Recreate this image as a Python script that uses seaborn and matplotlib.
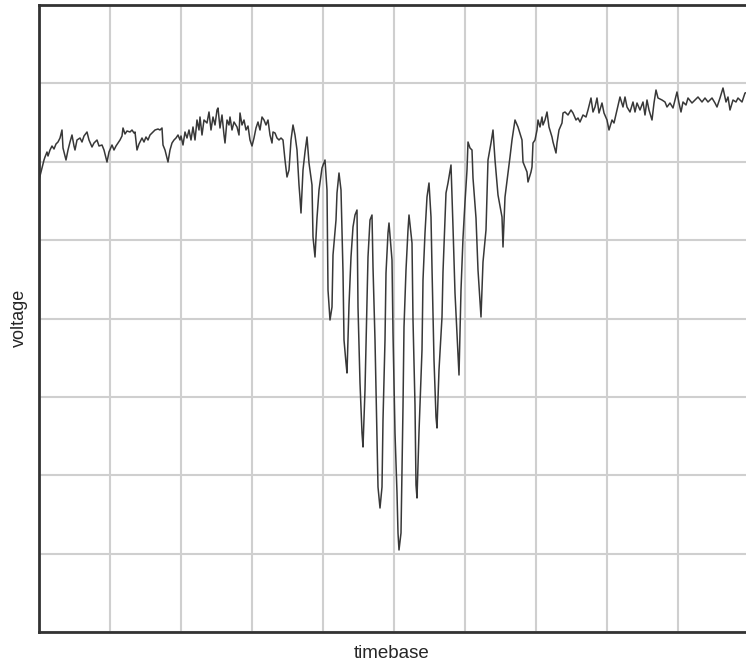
import numpy as np
import pandas as pd
import matplotlib
matplotlib.use("Agg")
import matplotlib.pyplot as plt
import seaborn as sns

# Sampled trace: time in samples, voltage in counts
time = [
    0, 1, 3, 5, 6, 8, 9, 11, 13, 15, 17, 19, 21, 23, 24, 25, 27, 29, 31, 33, 35, 36, 38, 41,
    43, 45, 48, 50, 53, 55, 58, 60, 63, 65, 68, 70, 73, 75, 77, 79, 81, 83, 84, 86, 88, 91, 93, 95,
    96, 98, 100, 103, 105, 107, 109, 111, 114, 116, 119, 121, 123, 124, 126, 128, 129, 131, 133,
    135, 137, 139, 141, 142, 144, 146, 148, 150, 152, 154, 156, 158, 160, 161, 163, 165, 168, 170,
    172, 174, 176, 178, 179, 181, 183, 185, 186, 188, 190, 191, 193, 195, 198, 200,
    201, 203, 205, 207, 209, 211, 213, 215, 217, 219, 221, 223, 225, 227, 229, 231, 233, 234, 236,
    238, 240, 242, 244, 246, 248, 250, 252, 254, 256, 258, 260,
    261, 262, 264, 266, 268, 270, 273, 274, 276, 278, 280, 283, 286, 288, 289, 291, 293, 294, 297,
    298, 300, 302, 304, 305, 307, 308, 310, 312, 314, 316, 318, 319, 321, 323, 324, 326, 328, 329,
    331, 333, 334, 336, 338, 339, 341, 343, 344, 346, 347, 349, 350, 353, 354, 356, 358, 359, 360,
    362, 364, 365, 367, 369, 370, 373, 374, 376, 377, 378, 380, 383, 384, 386, 388, 390, 392, 393,
    395, 397, 398, 400, 403, 404, 407, 409, 412, 414, 416, 418, 420, 422, 424, 426, 428, 429, 431,
    433, 434, 437, 439, 442, 444, 447, 449, 452, 454, 456, 459, 463, 464, 466, 469, 471, 473, 476,
    479, 483, 484, 488, 489, 492,
    493, 494, 496, 498, 499, 501, 503, 504, 506, 508, 510, 513, 514, 517, 518, 520, 523, 524, 526,
    529, 532, 534, 537, 539, 541, 544, 547, 549, 552, 554, 556, 558, 560, 563, 565, 568, 570, 573,
    575, 578, 581, 584, 586, 588, 591, 594, 596, 598, 601, 604, 606, 608, 610, 613, 615, 617, 619,
    623, 626, 628, 631, 634, 636, 638, 640, 642, 644, 647, 649, 653, 656, 659, 663, 666, 669, 673,
    676, 678, 681, 684, 687, 689, 691, 694, 697, 699, 703, 706, 710,
]
voltage = [
    452, 456, 464, 472, 475, 480, 476, 482, 486, 483, 488, 490, 494, 502, 484, 480, 472, 482, 490,
    497, 486, 482, 492, 494, 490, 496, 500, 492, 485, 489, 492, 486, 487, 482, 470, 480, 487, 482,
    486, 489, 492, 496, 504, 498, 501, 500, 502, 499,
    500, 482, 488, 494, 490, 495, 492, 497, 500, 502, 503, 502, 504, 487, 482, 474, 470, 482, 489,
    492, 494, 497, 492, 496, 487, 500, 494, 502, 492, 505, 492, 512, 502, 515, 497, 512, 509, 520,
    502, 515, 507, 522, 524, 504, 517, 497, 489, 512, 507, 515, 502, 510, 505, 497,
    519, 507, 512, 502, 506, 492, 486, 494, 504, 510, 502, 515, 512, 507, 512, 497, 489, 500, 499,
    494, 492, 494, 492, 472, 455, 462, 492, 507, 497, 482, 447,
    434, 419, 462, 480, 495, 469, 447, 395, 375, 414, 442, 464, 472, 442, 342, 312, 325, 377, 412,
    439, 459, 442, 360, 292, 269, 259, 327, 375, 405, 417, 422, 325, 249, 199, 185, 242, 332, 375,
    412, 417, 365, 292, 192, 145, 124, 145, 212, 292, 359, 399, 409, 372, 299, 199, 139, 99, 82,
    99, 225, 305, 362, 402, 417, 389, 312, 227, 147, 134, 200, 282, 352, 399, 435, 449, 415, 364,
    272, 215, 204, 262, 315, 360, 439, 449, 467, 405, 339, 299, 257, 342, 394, 430, 462, 490, 484,
    482, 454, 414, 362, 315, 370, 402, 472, 489, 502, 472, 437, 415, 385, 435, 459, 475, 492, 512,
    505, 492, 470, 460, 450, 460,
    465, 489, 492, 502, 512, 505, 515, 507, 512, 520, 505, 495, 490, 479, 489, 502, 509, 519, 520,
    517, 522, 519, 512, 514, 510, 517, 515, 522, 534, 520, 525, 534, 519, 529, 519, 512, 502, 512,
    509, 522, 535, 525, 535, 525, 520, 530, 520, 529, 522, 530, 517, 532, 522, 512, 529, 542, 534,
    532, 530, 525, 529, 524, 532, 540, 529, 520, 530, 527, 534, 529, 532, 535, 530, 534, 530, 534,
    529, 525, 534, 544, 530, 535, 522, 532, 530, 534, 530, 539, 540,
]

x_span = 710
y_span = 627
x_divisions = 10
y_divisions = 8

df = pd.DataFrame({"timebase": time, "voltage": voltage})

sns.set_style("white")
plt.rcParams["font.family"] = ["Liberation Sans", "DejaVu Sans"]

fig = plt.figure(figsize=(7.46, 6.65), dpi=100)
ax = fig.add_axes([39 / 746, 33 / 665, 710 / 746, 627 / 665])

sns.lineplot(data=df, x="timebase", y="voltage", ax=ax, color="#383838",
             linewidth=1.1, estimator=None, sort=False)

ax.set_xlim(0, x_span)
ax.set_ylim(0, y_span)
ax.set_xticks(np.linspace(0, x_span, x_divisions + 1))
ax.set_yticks(np.linspace(0, y_span, y_divisions + 1))
ax.grid(True, color="#cfcfcf", linewidth=1.5)
ax.set_axisbelow(True)
ax.tick_params(length=0, labelbottom=False, labelleft=False)
ax.set_xlabel("")
ax.set_ylabel("")

for side in ("left", "bottom", "top"):
    ax.spines[side].set_visible(True)
    ax.spines[side].set_color("#333333")
    ax.spines[side].set_linewidth(2)
ax.spines["right"].set_visible(False)

fig.text(392 / 746, 1 - 654 / 665, "timebase", ha="center", va="center", fontsize=13.5)
fig.text(19 / 746, 1 - 318 / 665, "voltage", ha="center", va="center",
         rotation=90, fontsize=13)

fig.savefig("out.png", dpi=100, facecolor="white")
